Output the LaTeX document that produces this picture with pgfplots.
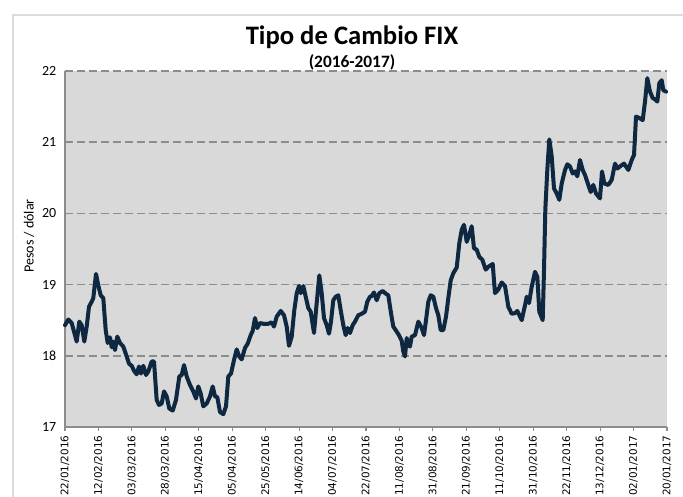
\documentclass[border=0pt]{standalone}
\usepackage{pgfplots}
\pgfplotsset{compat=1.18}
\usepackage{fontspec}
\setmainfont{Carlito}
\newfontfamily\dejavu{DejaVu Sans}
\definecolor{linea}{HTML}{0E2841}
\definecolor{fondo}{HTML}{D9D9D9}
\definecolor{rejilla}{HTML}{8C8C8C}
\definecolor{marco}{HTML}{DCDCDC}

\begin{document}
\begin{tikzpicture}[x=0.75pt,y=0.75pt]
\path[use as bounding box] (0,0) rectangle (683,497);
% chart area frame
\draw[marco, line width=1.2pt] (13,-5) -- (13,482) -- (690,482);

\node[font=\bfseries\fontsize{20}{24}\selectfont] at (352,460) {Tipo de Cambio FIX};
\node[font=\bfseries\fontsize{13}{15}\selectfont] at (352,435) {(2016-2017)};
\node[rotate=90, font=\fontsize{10.5}{12}\selectfont] at (29,261) {Pesos / dólar};

\begin{axis}[
    at={(48.75pt,52.5pt)}, anchor=south west,
    width=451.5pt, height=267pt, scale only axis,
    xmin=0, xmax=247, ymin=17, ymax=22,
    axis background/.style={fill=fondo},
    axis x line*=bottom, axis y line*=left,
    axis line style={rejilla, line width=1.1pt, -},
    xtick={0,13.72,27.44,41.17,54.89,68.61,82.33,96.06,109.78,123.5,137.22,150.94,164.67,178.39,192.11,205.83,219.56,233.28,247},
    xticklabels={22/01/2016,12/02/2016,03/03/2016,28/03/2016,15/04/2016,05/04/2016,25/05/2016,14/06/2016,04/07/2016,22/07/2016,11/08/2016,31/08/2016,21/09/2016,11/10/2016,31/10/2016,22/11/2016,13/12/2016,02/01/2017,20/01/2017},
    x tick label style={rotate=90, anchor=east, font=\dejavu\fontsize{7.8}{9}\selectfont},
    xtick style={rejilla, line width=0.8pt},
    tick align=outside, major tick length=3pt,
    ytick={17,18,...,22},
    ytick style={draw=none},
    y tick label style={font=\fontsize{10.5}{12}\selectfont},
    /pgf/number format/assume math mode=true,
    ymajorgrids,
    major grid style={rejilla, line width=1.1pt, dash pattern=on 6pt off 3pt},
    clip=false,
]
\addplot[linea, line width=3pt, line join=round, line cap=round] coordinates {
(0,18.43) (1.35,18.51) (2.75,18.46) (3.69,18.34) (4.80,18.20) (5.87,18.48) (6.85,18.43) (7.92,18.20) (8.90,18.41) (9.85,18.69)
(10.95,18.76) (11.61,18.81) (12.72,19.15) (13.66,18.99) (14.65,18.85) (15.71,18.81) (16.70,18.36) (17.52,18.18) (18.46,18.26) (19.16,18.12)
(19.82,18.20) (20.52,18.08) (21.46,18.27) (22.57,18.18) (23.92,18.13) (25.32,17.99) (26.26,17.89) (27.37,17.86) (28.31,17.79) (29.42,17.74)
(30.36,17.85) (31.18,17.75) (32.13,17.86) (33.23,17.73) (34.18,17.78) (35.57,17.92) (36.52,17.92) (37.62,17.38) (38.57,17.31) (39.68,17.33)
(40.62,17.50) (41.73,17.43) (42.79,17.26) (44.19,17.23) (45.54,17.38) (46.90,17.71) (47.88,17.73) (48.83,17.87) (49.93,17.71) (51.29,17.59)
(52.64,17.50) (53.75,17.40) (54.69,17.57) (55.68,17.47) (56.74,17.29) (58.14,17.33) (59.49,17.43) (60.60,17.57) (61.55,17.43) (62.49,17.42)
(63.60,17.21) (64.95,17.18) (66.06,17.29) (67.00,17.71) (68.11,17.75) (69.34,17.94) (70.45,18.09) (71.51,17.99) (72.50,17.95) (73.85,18.11)
(74.96,18.17) (76.19,18.29) (77.01,18.35) (77.96,18.53) (78.90,18.39) (80.01,18.46) (81.36,18.45) (83.41,18.45) (84.81,18.47) (85.75,18.41)
(86.86,18.55) (88.50,18.63) (89.86,18.57) (90.96,18.41) (91.91,18.14) (93.02,18.27) (94.08,18.64) (95.07,18.88) (96.01,18.98) (96.71,18.88)
(97.78,18.98) (98.76,18.83) (99.83,18.67) (100.81,18.62) (102.17,18.32) (103.27,18.74) (104.34,19.13) (105.32,18.88) (106.27,18.53) (107.37,18.43)
(108.32,18.31) (109.14,18.48) (110.08,18.78) (111.07,18.83) (112.14,18.85) (113.12,18.64) (114.19,18.43) (115.17,18.29) (115.99,18.39) (116.94,18.32)
(118.04,18.43) (118.99,18.48) (120.34,18.57) (121.74,18.59) (123.09,18.62) (124.04,18.76) (125.14,18.83) (125.84,18.84) (126.78,18.89) (127.89,18.78)
(128.96,18.88) (130.35,18.91) (131.71,18.87) (132.65,18.85) (133.76,18.60) (134.70,18.41) (136.10,18.34) (137.17,18.28) (138.15,18.21) (138.81,18.06)
(139.50,17.99) (140.20,18.25) (140.86,18.15) (141.55,18.13) (142.25,18.27) (143.61,18.29) (144.96,18.48) (146.36,18.39) (147.30,18.29) (148.12,18.50)
(149.07,18.76) (150.05,18.85) (151.12,18.83) (152.23,18.67) (153.17,18.57) (154.15,18.36) (155.22,18.36) (156.33,18.55) (157.27,18.81) (158.26,19.06)
(159.32,19.16) (160.72,19.24) (161.78,19.58) (162.77,19.77) (163.71,19.84) (164.82,19.60) (165.88,19.70) (166.87,19.82) (167.81,19.51) (168.92,19.49)
(169.99,19.39) (171.22,19.35) (172.61,19.21) (173.68,19.25) (175.49,19.29) (176.43,18.88) (177.79,18.93) (179.18,19.03) (180.54,18.98) (181.89,18.69)
(183.29,18.59) (184.64,18.60) (185.59,18.63) (187.39,18.50) (188.74,18.71) (189.44,18.83) (190.38,18.74) (191.49,18.97) (192.84,19.18) (193.79,19.11)
(194.61,18.62) (196.00,18.50) (196.54,19.21) (197.07,20.05) (197.89,20.61) (198.71,21.04) (199.70,20.80) (200.64,20.35) (201.75,20.28) (202.82,20.19)
(203.80,20.42) (205.16,20.61) (206.10,20.69) (207.20,20.66) (208.31,20.56) (209.25,20.59) (210.20,20.52) (211.30,20.75) (212.41,20.61) (213.36,20.54)
(214.71,20.40) (215.70,20.30) (216.76,20.40) (217.87,20.28) (219.51,20.21) (220.33,20.59) (221.28,20.42) (222.92,20.40) (224.31,20.47) (225.67,20.70)
(226.61,20.63) (227.72,20.66) (229.36,20.70) (231.13,20.61) (232.52,20.75) (233.47,20.82) (234.29,21.36) (235.64,21.34) (237.04,21.31) (237.98,21.57)
(238.92,21.90) (240.03,21.71) (241.14,21.62) (242.21,21.60) (243.03,21.57) (243.85,21.83) (244.83,21.87) (245.49,21.73) (246.60,21.71)
};
\end{axis}
\end{tikzpicture}
\end{document}
